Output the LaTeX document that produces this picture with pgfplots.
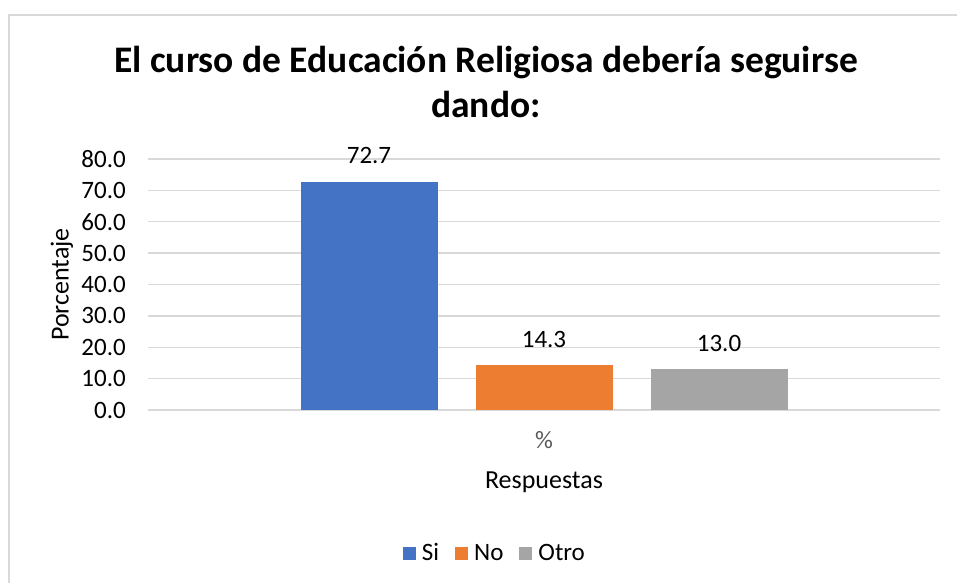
\documentclass[border=0pt]{standalone}
\usepackage{fontspec}
\setmainfont{Carlito}
\usepackage{pgfplots}
\pgfplotsset{compat=1.18}
\definecolor{cblue}{HTML}{4472C4}
\definecolor{corange}{HTML}{ED7D31}
\definecolor{cgray}{HTML}{A5A5A5}
\definecolor{gridc}{HTML}{D9D9D9}
\begin{document}
\begin{tikzpicture}
\path[use as bounding box] (0pt,0pt) rectangle (957pt,583pt);
\draw[gridc, line width=1.5pt] (9pt,0pt) -- (9pt,568pt) -- (960pt,568pt);
\node[font=\fontsize{37.5}{45}\selectfont\bfseries, align=center] at (486pt,501pt) {El curso de Educación Religiosa debería seguirse\\dando:};
\begin{axis}[at={(148pt,173pt)}, anchor=south west, scale only axis,
 width=792pt, height=251pt,
 xmin=-0.5, xmax=0.5, ymin=0, ymax=80,
 ytick={0,10,...,80}, xtick={0}, xticklabels={\%},
 ybar=38pt, bar width=137pt,
 axis line style={draw=none}, major tick length=0pt,
 ymajorgrids, grid style={gridc, line width=1.3pt},
 clip=false,
 /pgf/number format/.cd, fixed, fixed zerofill, precision=1, assume math mode=true,
 /pgfplots/.cd,
 tick label style={font=\fontsize{25}{30}\selectfont, inner sep=0pt},
 yticklabel style={anchor=east, xshift=-22pt},
 xticklabel style={anchor=center, yshift=-30pt, text=black!65},
 xlabel={Respuestas}, ylabel={Porcentaje},
 label style={font=\fontsize{26}{31}\selectfont, inner sep=0pt},
 xlabel style={at={(axis description cs:0.5,-0.287)}, anchor=center},
 ylabel style={at={(axis description cs:-0.1086,0.5)}, anchor=center},
 nodes near coords,
 every node near coord/.append style={anchor=base, yshift=18pt, inner sep=0pt, font=\fontsize{25}{30}\selectfont},
 legend columns=-1,
 legend style={at={(axis description cs:0.438,-0.570)}, anchor=center, draw=none, font=\fontsize{25}{30}\selectfont,
   /tikz/every odd column/.append style={column sep=4pt},
   /tikz/every even column/.append style={column sep=14pt}},
]
\addplot[fill=cblue, draw=none, legend image code/.code={\fill[cblue] (0pt,-6.5pt) rectangle (13pt,6.5pt);}] coordinates {(0,72.7)};
\addplot[fill=corange, draw=none, legend image code/.code={\fill[corange] (0pt,-6.5pt) rectangle (13pt,6.5pt);}] coordinates {(0,14.3)};
\addplot[fill=cgray, draw=none, legend image code/.code={\fill[cgray] (0pt,-6.5pt) rectangle (13pt,6.5pt);}] coordinates {(0,13.0)};
\legend{Si,No,Otro}
\end{axis}
\end{tikzpicture}
\end{document}
